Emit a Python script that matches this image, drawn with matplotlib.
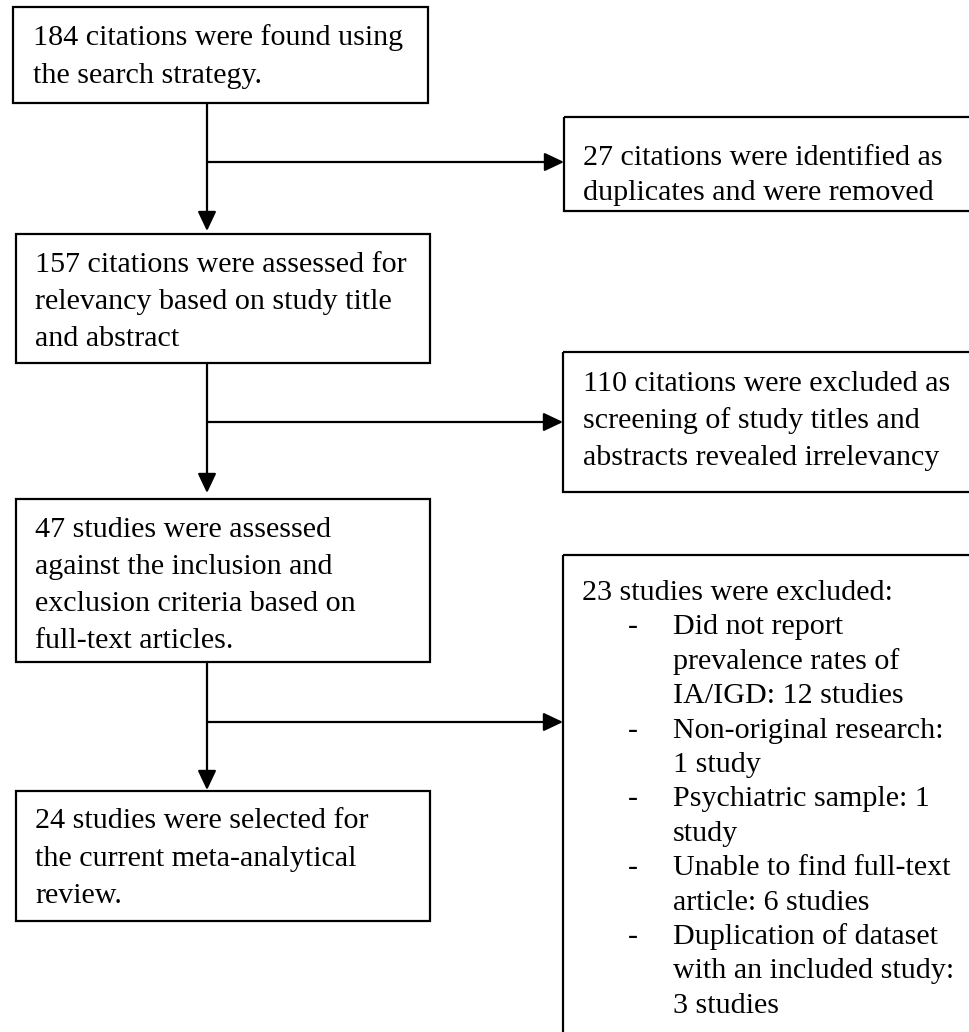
import matplotlib
matplotlib.use("Agg")
import matplotlib.pyplot as plt
from matplotlib.patches import Rectangle, FancyArrowPatch

# ---- content ----
main_texts = [
    ["184 citations were found using", "the search strategy."],
    ["157 citations were assessed for", "relevancy based on study title", "and abstract"],
    ["47 studies were assessed", "against the inclusion and", "exclusion criteria based on", "full-text articles."],
    ["24 studies were selected for", "the current meta-analytical", "review."],
]
side_texts = [
    ["27 citations were identified as", "duplicates and were removed"],
    ["110 citations were excluded as", "screening of study titles and", "abstracts revealed irrelevancy"],
]
excl_header = "23 studies were excluded:"
excl_items = [
    ["Did not report", "prevalence rates of", "IA/IGD: 12 studies"],
    ["Non-original research:", "1 study"],
    ["Psychiatric sample: 1", "study"],
    ["Unable to find full-text", "article: 6 studies"],
    ["Duplication of dataset", "with an included study:", "3 studies"],
]

# ---- layout (pixels) ----
W, H = 970, 1032
fig = plt.figure(figsize=(W / 100, H / 100), dpi=100)
ax = fig.add_axes([0, 0, 1, 1])
ax.set_xlim(0, W)
ax.set_ylim(H, 0)
ax.axis("off")

FONT = "Liberation Serif"
FS = 21.6
LW = 1.6

# (x0, y0, x1, y1), first baseline, line spacing, text x
main_boxes = [
    ((13, 7, 428, 103), 45, 38, 33),
    ((16, 234, 430, 363), 272, 37, 35),
    ((16, 499, 430, 662), 537, 37, 35),
    ((16, 791, 430, 921), 828, 37.5, 35),
]
side_boxes = [
    ((564, 117, 990, 211), 165, 35, 583),
    ((563, 352, 990, 492), 391, 37, 583),
]
excl_box = (563, 555, 990, 1045)

def draw_box(rect):
    x0, y0, x1, y1 = rect
    ax.add_patch(Rectangle((x0, y0), x1 - x0, y1 - y0, fill=False,
                           edgecolor="black", linewidth=LW, zorder=2,
                           joinstyle="miter"))

def draw_lines(lines, x, y0, dy):
    for i, s in enumerate(lines):
        ax.text(x, y0 + i * dy, s, fontsize=FS, family=FONT,
                ha="left", va="baseline", color="black")

for (rect, b0, dy, tx), lines in zip(main_boxes, main_texts):
    draw_box(rect)
    draw_lines(lines, tx, b0, dy)

for (rect, b0, dy, tx), lines in zip(side_boxes, side_texts):
    draw_box(rect)
    draw_lines(lines, tx, b0, dy)

draw_box(excl_box)
ax.text(582, 600, excl_header, fontsize=FS, family=FONT, ha="left", va="baseline")
k = 1
for item in excl_items:
    ax.text(628, 600 + k * 34.4, "-", fontsize=FS, family=FONT, ha="left", va="baseline")
    for s in item:
        ax.text(673, 600 + k * 34.4, s, fontsize=FS, family=FONT, ha="left", va="baseline")
        k += 1

def arrow(p0, p1):
    ax.add_patch(FancyArrowPatch(p0, p1, arrowstyle="-|>,head_length=0.95,head_width=0.45",
                                 mutation_scale=12.5, color="black", linewidth=LW,
                                 shrinkA=0, shrinkB=0, zorder=3))

XC = 207
# vertical connectors
arrow((XC, 103), (XC, 231))
arrow((XC, 363), (XC, 493))
arrow((XC, 662), (XC, 790))
# side branches
arrow((XC, 162), (564, 162))
arrow((XC, 422), (563, 422))
arrow((XC, 722), (563, 722))

fig.savefig("out.png", dpi=100, facecolor="white")
